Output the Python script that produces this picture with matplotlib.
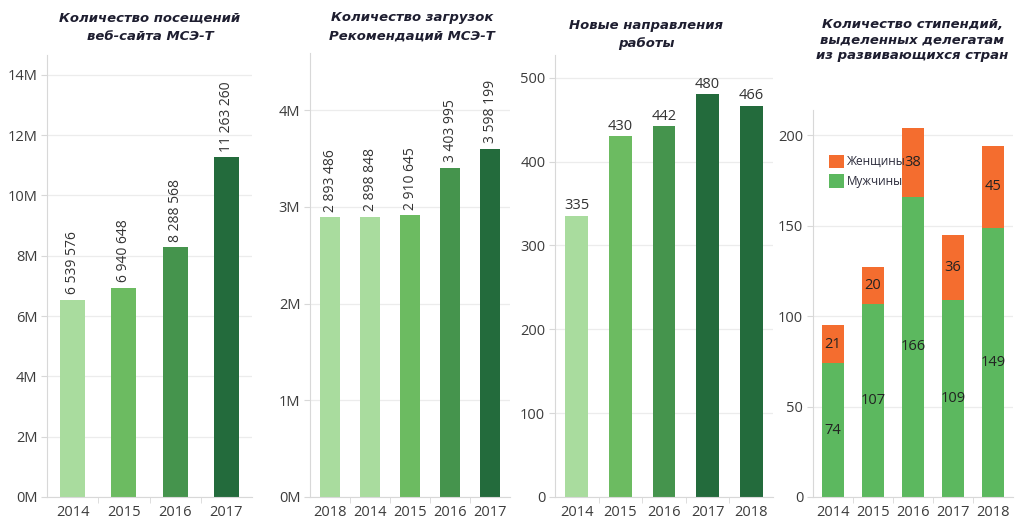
import matplotlib
matplotlib.use("Agg")
import matplotlib.pyplot as plt
import numpy as np
from matplotlib.ticker import FuncFormatter, FixedLocator

plt.rcParams['font.family'] = ['Open Sans', 'DejaVu Sans']

# ---- data ----
visits_years = ['2014', '2015', '2016', '2017']
visits_values = [6539576, 6940648, 8288568, 11263260]

downloads_years = ['2018', '2014', '2015', '2016', '2017']
downloads_values = [2893486, 2898848, 2910645, 3403995, 3598199]

topics_years = ['2014', '2015', '2016', '2017', '2018']
topics_values = [335, 430, 442, 480, 466]

fellow_years = ['2014', '2015', '2016', '2017', '2018']
fellow_men = [74, 107, 166, 109, 149]
fellow_women = [21, 20, 38, 36, 45]

titles = ['Количество посещений\nвеб-сайта МСЭ-Т',
          'Количество загрузок\nРекомендаций МСЭ-Т',
          'Новые направления\nработы',
          'Количество стипендий,\nвыделенных делегатам\nиз развивающихся стран']
legend_labels = ['Женщины', 'Мужчины']

# ---- styles ----
C1, C2, C3, C4 = '#a9dc9e', '#6cbb61', '#45944d', '#236b3c'
visits_colors = [C1, C2, C3, C4]
downloads_colors = [C1, C1, C2, C3, C4]
topics_colors = [C1, C2, C3, C4, C4]
GREEN = '#5cb85f'
ORANGE = '#f46d2f'
GRID = '#ececec'
AX = '#d8d8d8'
TXT = '#3c3c3c'

W, H = 1016, 522
fig = plt.figure(figsize=(W / 100, H / 100), dpi=100)

def px_axes(x0, x1, ytop, ybot=497):
    return fig.add_axes([x0 / W, 1 - ybot / H, (x1 - x0) / W, (ybot - ytop) / H])

def style(ax, n, yticks, fmt):
    ax.set_xlim(-0.5, n - 0.5)
    ax.yaxis.set_major_locator(FixedLocator(yticks))
    ax.yaxis.set_major_formatter(FuncFormatter(fmt))
    ax.grid(axis='y', color=GRID, linewidth=0.9)
    ax.set_axisbelow(True)
    for s in ['top', 'right']:
        ax.spines[s].set_visible(False)
    ax.spines['left'].set_color(AX)
    ax.spines['bottom'].set_color(AX)
    ax.tick_params(axis='y', length=4, color=AX, labelsize=10.5, labelcolor=TXT, pad=3)
    ax.tick_params(axis='x', length=0, labelsize=10.5, labelcolor=TXT, pad=6)
    ax.set_xticks(np.arange(n - 1) + 0.5, minor=True)
    ax.tick_params(axis='x', which='minor', length=4, color=AX)

def fmt_space(v):
    return f"{v:,}".replace(',', ' ')

title_kw = dict(fontsize=9.5, fontweight='bold', fontstyle='italic', color='#1e1e30',
                ha='center', va='center', family=['DejaVu Sans'])

# Panel 1
ax1 = px_axes(47, 252, 55)
x = np.arange(len(visits_years))
ax1.bar(x, visits_values, width=0.49, color=visits_colors)
ax1.set_ylim(0, 14.66e6)
style(ax1, len(visits_years), np.arange(0, 15e6, 2e6), lambda v, p: f"{int(round(v / 1e6))}M")
ax1.set_xticks(x)
ax1.set_xticklabels(visits_years)
for xi, v in zip(x, visits_values):
    ax1.annotate(fmt_space(v), (xi, v), xytext=(0, 4), textcoords='offset points',
                 rotation=90, ha='center', va='bottom', fontsize=10, color='#333333')

# Panel 2
ax2 = px_axes(310, 510, 53)
x = np.arange(len(downloads_years))
ax2.bar(x, downloads_values, width=0.5, color=downloads_colors)
ax2.set_ylim(0, 4.59e6)
style(ax2, len(downloads_years), np.arange(0, 5e6, 1e6), lambda v, p: f"{int(round(v / 1e6))}M")
ax2.set_xticks(x)
ax2.set_xticklabels(downloads_years)
for xi, v in zip(x, downloads_values):
    ax2.annotate(fmt_space(v), (xi, v), xytext=(0, 4), textcoords='offset points',
                 rotation=90, ha='center', va='bottom', fontsize=10, color='#333333')

# Panel 3
ax3 = px_axes(555, 773, 55)
x = np.arange(len(topics_years))
ax3.bar(x, topics_values, width=0.52, color=topics_colors)
ax3.set_ylim(0, 527)
style(ax3, len(topics_years), np.arange(0, 501, 100), lambda v, p: f"{int(v)}")
ax3.set_xticks(x)
ax3.set_xticklabels(topics_years)
for xi, v in zip(x, topics_values):
    ax3.annotate(str(v), (xi, v), xytext=(0, 2), textcoords='offset points',
                 ha='center', va='bottom', fontsize=10.5, color='#333333')

# Panel 4
ax4 = px_axes(813, 1013, 110)
x = np.arange(len(fellow_years))
b_men = ax4.bar(x, fellow_men, width=0.55, color=GREEN, label=legend_labels[1])
b_wom = ax4.bar(x, fellow_women, width=0.55, bottom=fellow_men, color=ORANGE, label=legend_labels[0])
ax4.set_ylim(0, 214)
style(ax4, len(fellow_years), np.arange(0, 201, 50), lambda v, p: f"{int(v)}")
ax4.set_xticks(x)
ax4.set_xticklabels(fellow_years)
for xi, m, w in zip(x, fellow_men, fellow_women):
    ax4.text(xi, m / 2, str(m), ha='center', va='center', fontsize=10.5, color='#222222')
    ax4.text(xi, m + w / 2, str(w), ha='center', va='center', fontsize=10.5, color='#222222')
ax4.legend([b_wom, b_men], legend_labels, loc='upper left', bbox_to_anchor=(0.08, 0.885),
           frameon=False, fontsize=8.5, handlelength=1.3, handleheight=1.4,
           handletextpad=0.2, borderaxespad=0, borderpad=0, labelspacing=0.5,
           labelcolor='#2a2a3a')

# Titles
fig.text(150 / W, 1 - 27 / H, titles[0], linespacing=1.5, **title_kw)
fig.text(412 / W, 1 - 27 / H, titles[1], linespacing=1.5, **title_kw)
fig.text(646 / W, 1 - 35 / H, titles[2], linespacing=1.5, **title_kw)
fig.text(912 / W, 1 - 40 / H, titles[3], linespacing=1.3, **title_kw)

fig.savefig('out.png', dpi=100)
